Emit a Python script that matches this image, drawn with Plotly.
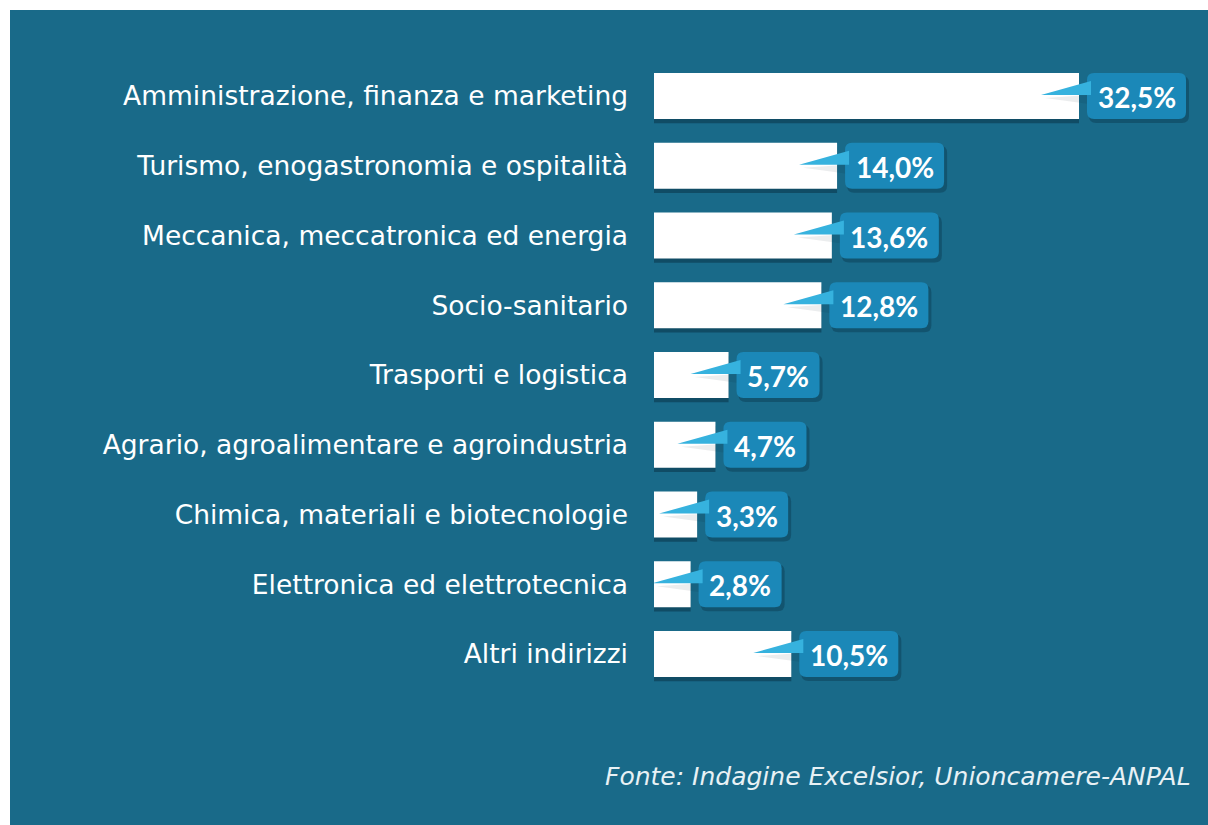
import plotly.graph_objects as go

categories = [
    "Amministrazione, finanza e marketing",
    "Turismo, enogastronomia e ospitalità",
    "Meccanica, meccatronica ed energia",
    "Socio-sanitario",
    "Trasporti e logistica",
    "Agrario, agroalimentare e agroindustria",
    "Chimica, materiali e biotecnologie",
    "Elettronica ed elettrotecnica",
    "Altri indirizzi",
]
values = [32.5, 14.0, 13.6, 12.8, 5.7, 4.7, 3.3, 2.8, 10.5]
value_labels = ["32,5%", "14,0%", "13,6%", "12,8%", "5,7%", "4,7%", "3,3%", "2,8%", "10,5%"]
source_text = "Fonte: Indagine Excelsior, Unioncamere-ANPAL"

W, H = 1208, 825
BG = "#196A89"
BOX = "#1B88B8"
WEDGE = "#36B2DE"
LABEL_FONT = "DejaVu Sans, sans-serif"
VALUE_FONT = "Lato, Open Sans, sans-serif"

positions = list(range(len(categories)))

fig = go.Figure()

# bar shadow
fig.add_trace(go.Bar(
    x=values, y=[p + 0.06 for p in positions], orientation="h",
    width=0.66, marker=dict(color="rgba(0,20,35,0.35)", line=dict(width=0)),
    hoverinfo="skip", showlegend=False,
))
fig.add_trace(go.Bar(
    x=values, y=positions, orientation="h",
    width=0.66, marker=dict(color="#FFFFFF", line=dict(width=0)),
    showlegend=False,
))

shapes = []
annotations = []

# panel
shapes.append(dict(type="rect", xref="paper", yref="paper",
                   x0=10 / W, x1=1.0, y0=0, y1=1 - 10 / H,
                   fillcolor=BG, line=dict(width=0), layer="below"))


def rounded(x0, y0, x1, y1, r):
    return (f"M {x0 + r},{y0} L {x1 - r},{y0} Q {x1},{y0} {x1},{y0 + r} "
            f"L {x1},{y1 - r} Q {x1},{y1} {x1 - r},{y1} L {x0 + r},{y1} "
            f"Q {x0},{y1} {x0},{y1 - r} L {x0},{y0 + r} Q {x0},{y0} {x0 + r},{y0} Z")


for v, p, lab in zip(values, positions, value_labels):
    bw = 19 + 16 * len(lab)
    bx0, bx1 = 8, 8 + bw
    common = dict(xref="x", yref="y", xsizemode="pixel", ysizemode="pixel", xanchor=v, yanchor=p)
    # box shadow
    shapes.append(dict(type="path", path=rounded(bx0 + 2, -27, bx1 + 3, 20, 7),
                       fillcolor="rgba(0,20,35,0.25)", line=dict(width=0), **common))
    # wedge shadow
    shapes.append(dict(type="path", path=f"M -34,-2 L {bx0 + 2},-8 L {bx0 + 2},1 Z",
                       fillcolor="rgba(0,20,35,0.08)", line=dict(width=0), **common))
    # box
    shapes.append(dict(type="path", path=rounded(bx0, -23, bx1, 23, 7),
                       fillcolor=BOX, line=dict(width=0), **common))
    # wedge
    shapes.append(dict(type="path", path=f"M -38,1 L {bx0 + 4},15 L {bx0 + 4},1 Z",
                       fillcolor=WEDGE, line=dict(width=0), **common))
    annotations.append(dict(x=v, y=p, xref="x", yref="y", text=f"<b>{lab}</b>",
                            showarrow=False, xanchor="center", yanchor="middle",
                            xshift=bx0 + bw / 2, yshift=-1,
                            font=dict(family=VALUE_FONT, size=28, color="#FFFFFF")))

annotations.append(dict(x=1193 / W, y=1 - 776 / H, xref="paper", yref="paper",
                        text=f"<i>{source_text}</i>", showarrow=False,
                        xanchor="right", yanchor="middle",
                        font=dict(family=LABEL_FONT, size=25, color="#E8F1F5")))

px_per_unit = (1079 - 654) / 32.5
x0px = 654
xmax = (W - x0px) / px_per_unit
row = 69.75
yc0 = 96
fig.update_layout(
    width=W, height=H,
    margin=dict(l=0, r=0, t=0, b=0),
    paper_bgcolor="#FFFFFF",
    plot_bgcolor="rgba(0,0,0,0)",
    barmode="overlay",
    shapes=shapes,
    annotations=annotations,
    xaxis=dict(domain=[x0px / W, 1.0], range=[0, xmax], visible=False, fixedrange=True),
    yaxis=dict(domain=[0, 1], range=[(H - yc0) / row, -yc0 / row],
               tickvals=positions, ticktext=categories,
               showgrid=False, zeroline=False, showline=False, ticks="",
               ticklabelstandoff=25, fixedrange=True,
               tickfont=dict(family=LABEL_FONT, size=26.5, color="#FFFFFF")),
)

fig.write_html(
    "out.html",
    config={"displayModeBar": False},
    post_script="document.body.style.margin='0';document.body.style.overflow='hidden';",
)
